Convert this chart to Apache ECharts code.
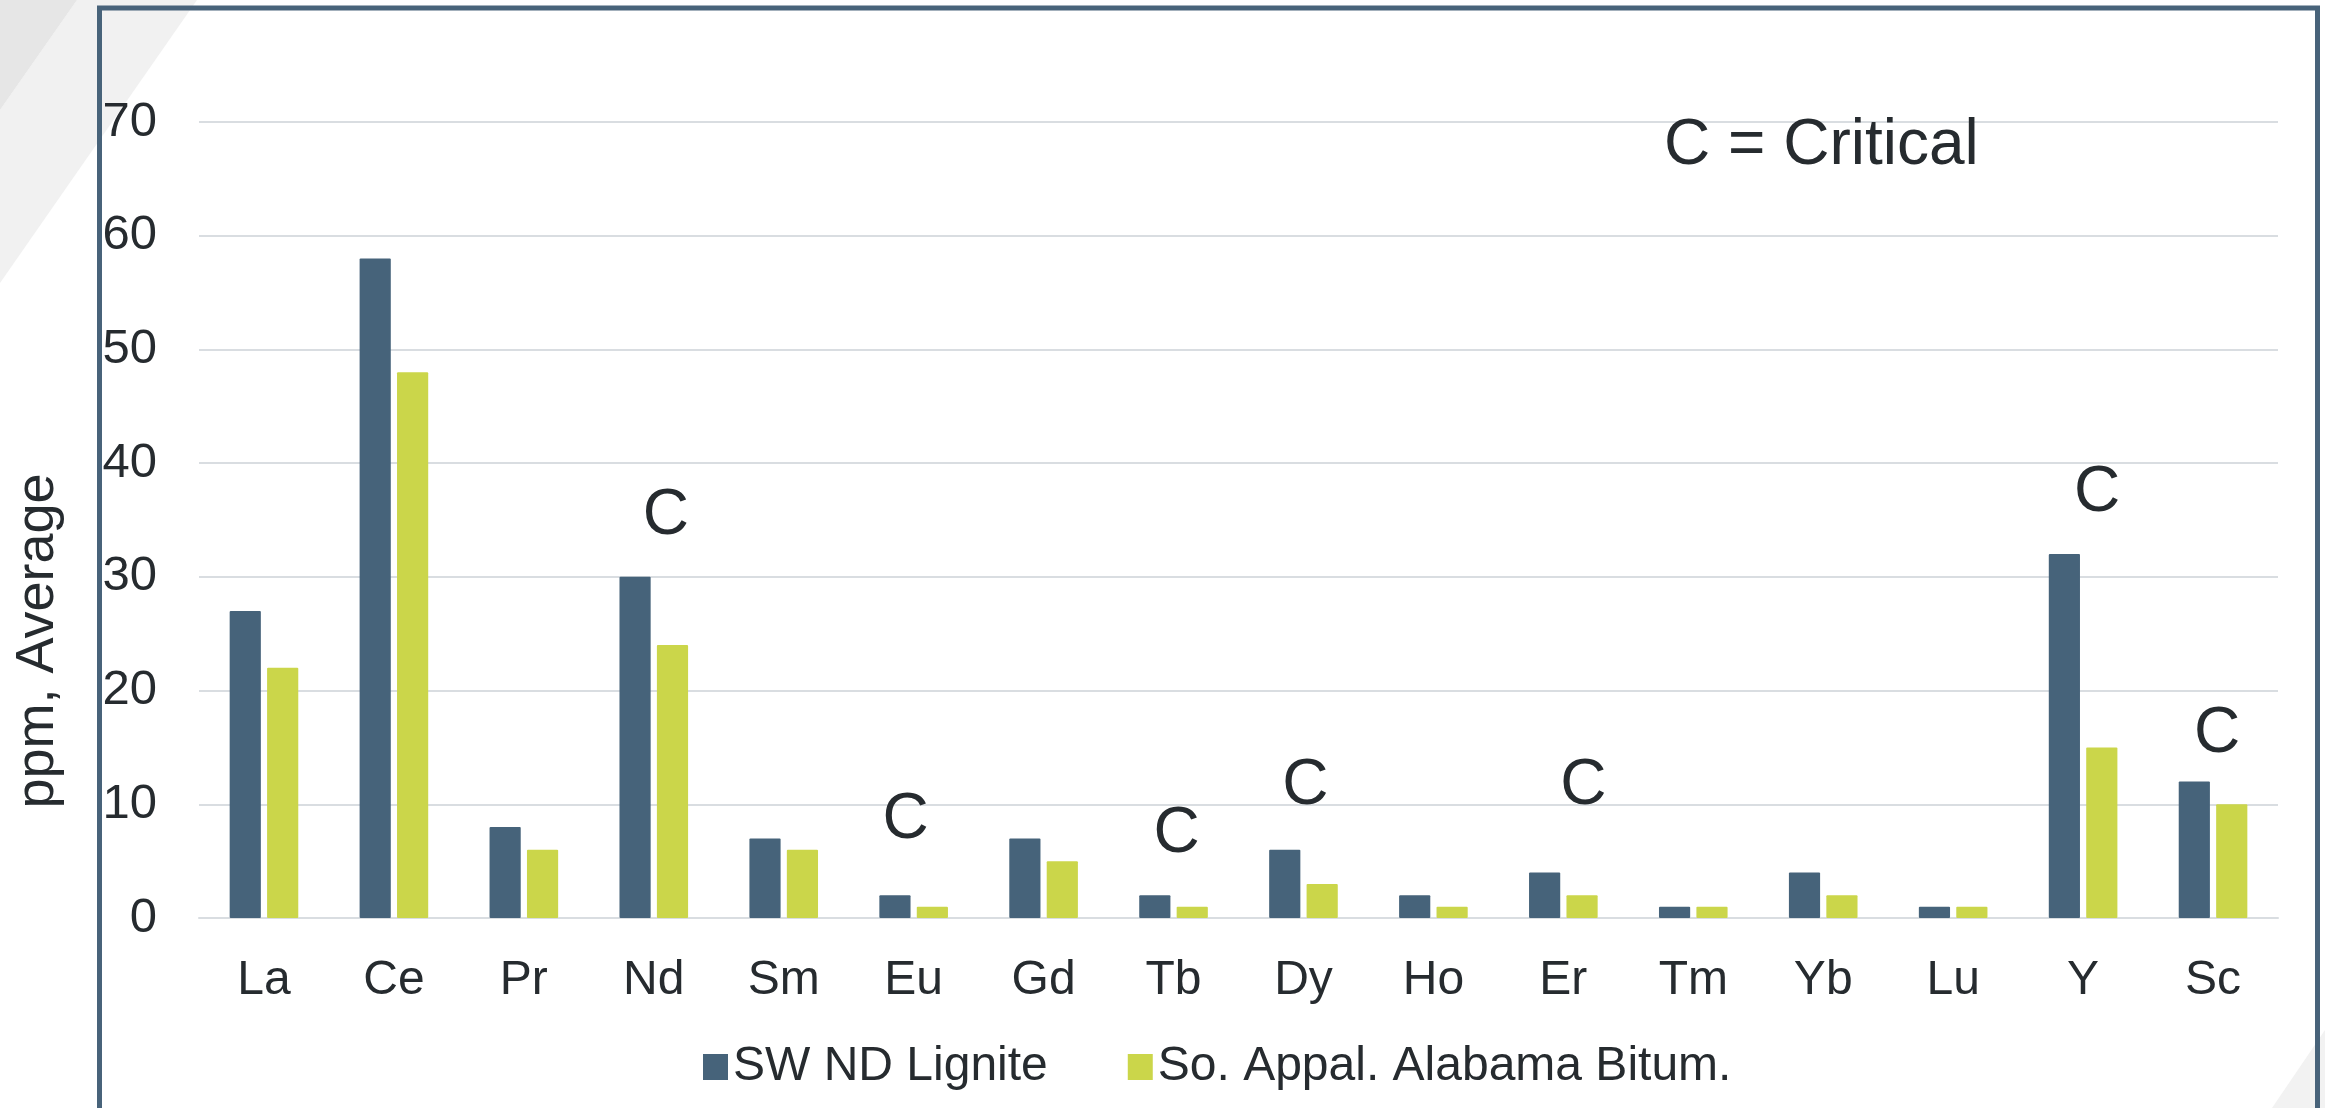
<!DOCTYPE html>
<html>
<head>
<meta charset="utf-8">
<title>REE ppm</title>
<script src="https://cdn.jsdelivr.net/npm/echarts@6/dist/echarts.min.js"></script>
<style>
  html, body { margin: 0; padding: 0; background: #fff; }
  #main { width: 2325px; height: 1108px; }
</style>
</head>
<body>
<div id="main"></div>
<script>
var elements = ['La', 'Ce', 'Pr', 'Nd', 'Sm', 'Eu', 'Gd', 'Tb', 'Dy', 'Ho', 'Er', 'Tm', 'Yb', 'Lu', 'Y', 'Sc'];
var ndLignite = [27, 58, 8, 30, 7, 2, 7, 2, 6, 2, 4, 1, 4, 1, 32, 12];
var alabamaBitum = [22, 48, 6, 24, 6, 1, 5, 1, 3, 1, 2, 1, 2, 1, 15, 10];
var yTicks = [0, 10, 20, 30, 40, 50, 60, 70];

// elements marked "C" (critical) and the height (ppm) where the mark sits
var criticalElements = ['Nd', 'Eu', 'Tb', 'Dy', 'Er', 'Y', 'Sc'];
var criticalMarkAt = [35.8, 9.0, 7.8, 12.0, 12.0, 37.8, 16.6];
var criticalShift = [12, -8, 3, 2, 20, 14, 4];

var FONT = 'Liberation Sans, Arial, sans-serif';
var INK = '#262b2f';

function echart_ree() {
    var critData = [];
    for (var i = 0; i < criticalElements.length; i++) {
        critData.push({
            value: [criticalElements[i], criticalMarkAt[i]],
            label: { offset: [criticalShift[i], 5] }
        });
    }

    var option = {
        backgroundColor: '#FFFFFF',
        animation: false,
        textStyle: { fontFamily: FONT },
        color: ['#46637a', '#cbd64a'],
        title: {
            text: 'C = Critical',
            left: 1664,
            top: 114,
            padding: 0,
            textStyle: { fontFamily: FONT, fontSize: 64, fontWeight: 'normal', color: INK }
        },
        legend: {
            data: ['SW ND Lignite', 'So. Appal. Alabama Bitum.'],
            left: 698,
            top: 1038,
            icon: 'rect',
            itemWidth: 25,
            itemHeight: 26,
            itemGap: 80,
            textStyle: { fontFamily: FONT, fontSize: 48, color: INK }
        },
        grid: {
            left: 199,
            right: 47,
            top: 122,
            bottom: 190
        },
        xAxis: {
            type: 'category',
            data: elements,
            axisTick: { show: false },
            axisLine: { lineStyle: { color: '#d9dde1', width: 2 } },
            axisLabel: { margin: 39, fontSize: 48, color: INK, fontFamily: FONT }
        },
        yAxis: {
            type: 'value',
            min: yTicks[0],
            max: yTicks[yTicks.length - 1],
            interval: 10,
            axisLine: { show: false },
            axisTick: { show: false },
            axisLabel: { margin: 42, fontSize: 49, color: INK, fontFamily: FONT },
            splitLine: { lineStyle: { color: '#d9dde1', width: 2 } }
        },
        graphic: [
            {
                type: 'polygon', z: -10,
                shape: { points: [[77, 0], [197, 0], [0, 283], [0, 110]] },
                style: { fill: '#f1f1f1' }
            },
            {
                type: 'polygon', z: -10,
                shape: { points: [[0, 0], [77, 0], [0, 110]] },
                style: { fill: '#e6e6e6' }
            },
            {
                type: 'polygon', z: -10,
                shape: { points: [[2325, 1030], [2325, 1108], [2272, 1108]] },
                style: { fill: '#f2f2f2' }
            },
            {
                type: 'rect', z: 100,
                shape: { x: 99.5, y: 8, width: 2218, height: 1200 },
                style: { fill: 'none', stroke: '#48637a', lineWidth: 5 }
            },
            {
                type: 'text',
                x: 38, y: 641,
                rotation: Math.PI / 2,
                style: {
                    text: 'ppm, Average',
                    fontFamily: FONT,
                    fontSize: 54,
                    fill: INK,
                    align: 'center',
                    verticalAlign: 'middle'
                }
            }
        ],
        series: [
            {
                name: 'SW ND Lignite',
                type: 'bar',
                barWidth: '24%',
                barGap: '20%',
                itemStyle: { borderRadius: 1 },
                data: ndLignite
            },
            {
                name: 'So. Appal. Alabama Bitum.',
                type: 'bar',
                barWidth: '24%',
                barGap: '20%',
                itemStyle: { borderRadius: 1 },
                data: alabamaBitum
            },
            {
                name: 'critical',
                type: 'scatter',
                symbolSize: 0,
                silent: true,
                itemStyle: { opacity: 1, color: 'transparent' },
                label: {
                    show: true,
                    position: 'inside',
                    formatter: 'C',
                    fontFamily: FONT,
                    fontSize: 64,
                    color: INK
                },
                data: critData
            }
        ]
    };

    var myChart = echarts.init(document.getElementById('main'));
    myChart.setOption(option);
    window.addEventListener("resize", function () {
        myChart.resize();
    });
}

echart_ree();
</script>
</body>
</html>
